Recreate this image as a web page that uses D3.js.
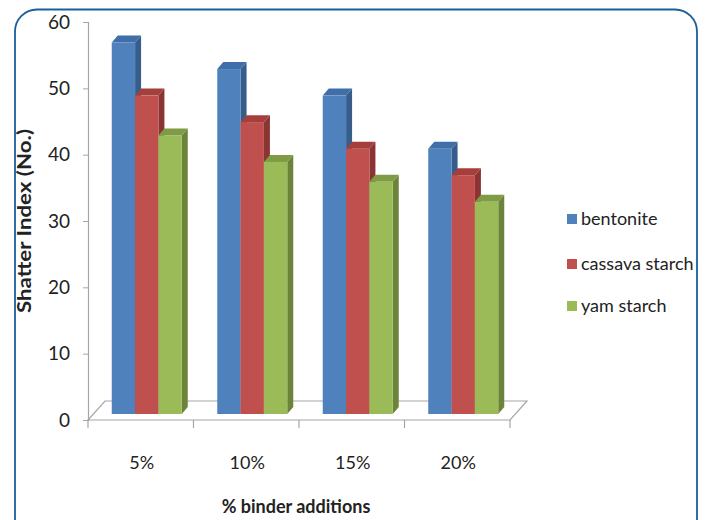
<!DOCTYPE html>
<html>
<head>
<meta charset="utf-8">
<script src="https://cdn.jsdelivr.net/npm/d3@7"></script>
<style>
  body { margin: 0; background: #fff; }
  svg text { font-family: Lato, "Open Sans", sans-serif; fill: #222; }
</style>
</head>
<body>
<script>
// data
var categories = ["5%", "10%", "15%", "20%"];
var seriesNames = ["bentonite", "cassava starch", "yam starch"];
var bentonite = [56, 52, 48, 40];
var cassava = [48, 44, 40, 36];
var yam = [42, 38, 35, 32];
var yTicks = [0, 10, 20, 30, 40, 50, 60];

var seriesValues = [bentonite, cassava, yam];
var colors = [
  {front: "#4F81BD", top: "#3F6FA8", side: "#365D8C"},
  {front: "#C0504D", top: "#A63F3C", side: "#8A3533"},
  {front: "#9BBB59", top: "#7F9C45", side: "#6B843A"}
];

var width = 708, height = 520;
var depth = {dx: 17, dy: -19};    // floor depth
var barShift = {dx: 6, dy: -6};   // bars sit inside the floor
var barDepth = {dx: 6, dy: -7};   // 3d side of each bar

var svg = d3.select("body").append("svg")
    .attr("width", width)
    .attr("height", height);

// frame
svg.append("rect")
    .attr("x", 15).attr("y", 9.5)
    .attr("width", 682).attr("height", 560)
    .attr("rx", 22).attr("ry", 22)
    .attr("fill", "none")
    .attr("stroke", "#1B5E9B")
    .attr("stroke-width", 1.8);

var x = d3.scaleBand().domain(categories).range([88, 510]);
var xs = d3.scaleBand().domain(seriesNames).range([0, 70]);
var y = d3.scaleLinear().domain([0, 60]).range([420, 22]);

// floor
var x0 = x.range()[0], x1 = x.range()[1], y0 = y(0);
svg.append("path")
    .attr("d", "M" + x0 + "," + y0 + "L" + x1 + "," + y0 +
               "L" + (x1 + depth.dx) + "," + (y0 + depth.dy) +
               "L" + (x0 + depth.dx) + "," + (y0 + depth.dy) + "Z")
    .attr("fill", "#fff")
    .attr("stroke", "#A6A6A6")
    .attr("stroke-width", 1.2);

// y axis
var yAxis = svg.append("g")
    .attr("transform", "translate(" + x0 + ",0)")
    .call(d3.axisLeft(y).tickValues(yTicks).tickSize(5).tickPadding(13));
yAxis.select(".domain").attr("stroke", "#A6A6A6").attr("stroke-width", 1.2);
yAxis.selectAll(".tick line").attr("stroke", "#A6A6A6");
yAxis.selectAll(".tick text")
    .style("font-family", "Lato, sans-serif")
    .style("font-size", "19px")
    .attr("fill", "#333");

// category boundary ticks
var bounds = categories.map(function(c) { return x(c); }).concat([x1]);
svg.selectAll(".ctick")
    .data(bounds)
    .enter().append("line")
    .attr("x1", function(d) { return d; })
    .attr("x2", function(d) { return d; })
    .attr("y1", y0).attr("y2", y0 + 8)
    .attr("stroke", "#A6A6A6")
    .attr("stroke-width", 1.2);

// bars, one group at a time
var pad = (x.bandwidth() - 70) / 2;
categories.forEach(function(cat, ci) {
  seriesNames.forEach(function(s, si) {
    var v = seriesValues[si][ci];
    var bx = x(cat) + pad + xs(s) + barShift.dx;
    var bw = xs.bandwidth();
    var top = y(v) + barShift.dy;
    var bottom = y0 + barShift.dy;
    var g = svg.append("g");
    // side
    g.append("path")
      .attr("d", "M" + (bx + bw) + "," + top +
                 "L" + (bx + bw + barDepth.dx) + "," + (top + barDepth.dy) +
                 "L" + (bx + bw + barDepth.dx) + "," + (bottom + barDepth.dy) +
                 "L" + (bx + bw) + "," + bottom + "Z")
      .attr("fill", colors[si].side);
    // top
    g.append("path")
      .attr("d", "M" + bx + "," + top +
                 "L" + (bx + barDepth.dx) + "," + (top + barDepth.dy) +
                 "L" + (bx + bw + barDepth.dx) + "," + (top + barDepth.dy) +
                 "L" + (bx + bw) + "," + top + "Z")
      .attr("fill", colors[si].top);
    // front
    g.append("rect")
      .attr("x", bx).attr("y", top)
      .attr("width", bw).attr("height", bottom - top)
      .attr("fill", colors[si].front);
  });
});

// category labels
svg.selectAll(".clabel")
    .data(categories)
    .enter().append("text")
    .attr("x", function(d) { return x(d) + x.bandwidth() / 2 + 1; })
    .attr("y", 469)
    .attr("text-anchor", "middle")
    .style("font-size", "18px")
    .attr("fill", "#333")
    .text(function(d) { return d; });

// axis titles
svg.append("text")
    .attr("x", 296).attr("y", 513)
    .attr("text-anchor", "middle")
    .style("font-size", "18px")
    .style("font-weight", "bold")
    .attr("fill", "#111")
    .text("% binder additions");

svg.append("text")
    .attr("transform", "translate(31,221) rotate(-90)")
    .attr("text-anchor", "middle")
    .attr("textLength", 184)
    .attr("lengthAdjust", "spacingAndGlyphs")
    .style("font-size", "18px")
    .style("font-weight", "bold")
    .attr("fill", "#111")
    .text("Shatter Index (No.)");

// legend
var legend = svg.selectAll(".legend")
    .data(seriesNames)
    .enter().append("g")
    .attr("transform", function(d, i) { return "translate(567," + [219, 264, 306][i] + ")"; });
legend.append("rect")
    .attr("x", 0).attr("y", -5)
    .attr("width", 10).attr("height", 10)
    .attr("fill", function(d, i) { return colors[i].front; });
legend.append("text")
    .attr("x", 14).attr("y", 6)
    .style("font-size", "18px")
    .attr("fill", "#222")
    .text(function(d) { return d; });
</script>
</body>
</html>
